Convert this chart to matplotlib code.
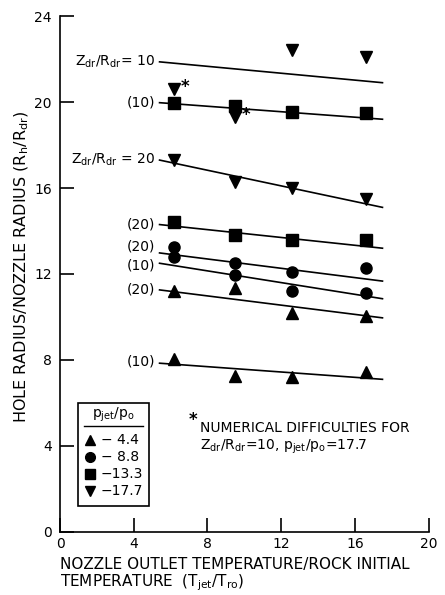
import matplotlib.pyplot as plt

# temperature ratio at which each run was done
t_ratio = [6.2, 9.5, 12.6, 16.6]

# hole radius / nozzle radius
tri_z10 = [8.05, 7.25, 7.2, 7.45]
tri_z20 = [11.2, 11.35, 10.2, 10.05]
circ_z10 = [12.8, 11.95, 11.2, 11.1]
circ_z20 = [13.27, 12.5, 12.1, 12.3]
sq_z10 = [19.95, 19.8, 19.55, 19.5]
sq_z20 = [14.4, 13.8, 13.6, 13.6]
dtri_z10 = [20.6, 19.3, 22.4, 22.1]
dtri_z20 = [17.3, 16.3, 16.0, 15.5]

# fitted lines: value at line start / end
fit_x = [5.4, 17.5]
fit_lines = {
    'dtri10': [21.87, 20.9],
    'sq10': [19.97, 19.2],
    'dtri20': [17.3, 15.1],
    'sq20': [14.3, 13.2],
    'circ20': [12.98, 11.67],
    'circ10': [12.5, 10.85],
    'tri20': [11.26, 9.96],
    'tri10': [7.85, 7.1],
}
fit_labels = {
    'dtri10': (r'$\mathregular{Z_{dr}/R_{dr}}$= 10', 0.0),
    'sq10': ('(10)', 0.0),
    'dtri20': (r'$\mathregular{Z_{dr}/R_{dr}}$ = 20', 0.0),
    'sq20': ('(20)', 0.0),
    'circ20': ('(20)', 0.3),
    'circ10': ('(10)', -0.1),
    'tri20': ('(20)', 0.0),
    'tri10': ('(10)', 0.1),
}

legend_vals = ['\u2212 4.4', '\u2212 8.8', '\u221213.3', '\u221217.7']

plt.rcParams['font.family'] = ['DejaVu Sans']
fig = plt.figure(figsize=(4.45, 5.95), dpi=100)
ax = fig.add_axes([0.135, 0.106, 0.828, 0.867])

ms = 8
for k, yy in fit_lines.items():
    ax.plot(fit_x, yy, color='black', lw=1.2)
    lab, dy = fit_labels[k]
    ax.text(fit_x[0] - 0.25, yy[0] + dy, lab, ha='right', va='center', fontsize=10)

ax.plot(t_ratio, tri_z10, '^', color='black', ms=ms)
ax.plot(t_ratio, tri_z20, '^', color='black', ms=ms)
ax.plot(t_ratio, circ_z10, 'o', color='black', ms=ms)
ax.plot(t_ratio, circ_z20, 'o', color='black', ms=ms)
ax.plot(t_ratio, sq_z10, 's', color='black', ms=ms)
ax.plot(t_ratio, sq_z20, 's', color='black', ms=ms)
ax.plot(t_ratio, dtri_z10, 'v', color='black', ms=ms)
ax.plot(t_ratio, dtri_z20, 'v', color='black', ms=ms)

# asterisks on the two bad runs
for i in [0, 1]:
    ax.text(t_ratio[i] + 0.35, dtri_z10[i] + 0.1, '*', fontsize=12, fontweight='bold', va='center')

ax.text(7.0, 5.2, '*', fontsize=12, fontweight='bold', va='center')
ax.text(7.6, 4.85, 'NUMERICAL DIFFICULTIES FOR', fontsize=10, va='center')
ax.text(7.6, 3.95, r'$\mathregular{Z_{dr}/R_{dr}}$=10, $\mathregular{p_{jet}/p_o}$=17.7', fontsize=10, va='center')

# legend box drawn by hand
lx0, lx1 = 1.0, 4.8
ax.add_patch(plt.Rectangle((lx0, 1.2), lx1 - lx0, 4.8, fill=False, lw=1.2, clip_on=False))
ax.text(2.9, 5.45, r'$\mathregular{p_{jet}/p_o}$', ha='center', va='center', fontsize=10)
ax.plot([1.3, 4.5], [4.95, 4.95], color='black', lw=1)
mk = ['^', 'o', 's', 'v']
for i, (m, lab) in enumerate(zip(mk, legend_vals)):
    yy = 4.3 - i * 0.8
    ax.plot(1.6, yy, m, color='black', ms=7)
    ax.text(2.2, yy, lab, va='center', fontsize=10)

ax.set_xlim(0, 20)
ax.set_ylim(0, 24)
ax.set_xticks([0, 4, 8, 12, 16, 20])
ax.set_yticks([0, 4, 8, 12, 16, 20, 24])
ax.tick_params(direction='in', length=10, width=1.2, labelsize=10)
ax.tick_params(axis='x', pad=4)
ax.tick_params(axis='y', pad=6)
ax.spines['top'].set_visible(False)
ax.spines['right'].set_visible(False)
ax.spines['left'].set_linewidth(1.2)
ax.spines['bottom'].set_linewidth(1.2)

ax.set_ylabel(r'HOLE RADIUS/NOZZLE RADIUS ($\mathregular{R_h/R_{dr}}$)', fontsize=11.5)
ax.yaxis.set_label_coords(-0.08, 0.514)
fig.text(0.135, 0.052, 'NOZZLE OUTLET TEMPERATURE/ROCK INITIAL', fontsize=11, va='center')
fig.text(0.135, 0.02, r'TEMPERATURE  ($\mathregular{T_{jet}/T_{ro}}$)', fontsize=11, va='center')

fig.savefig('out.png', dpi=100)
